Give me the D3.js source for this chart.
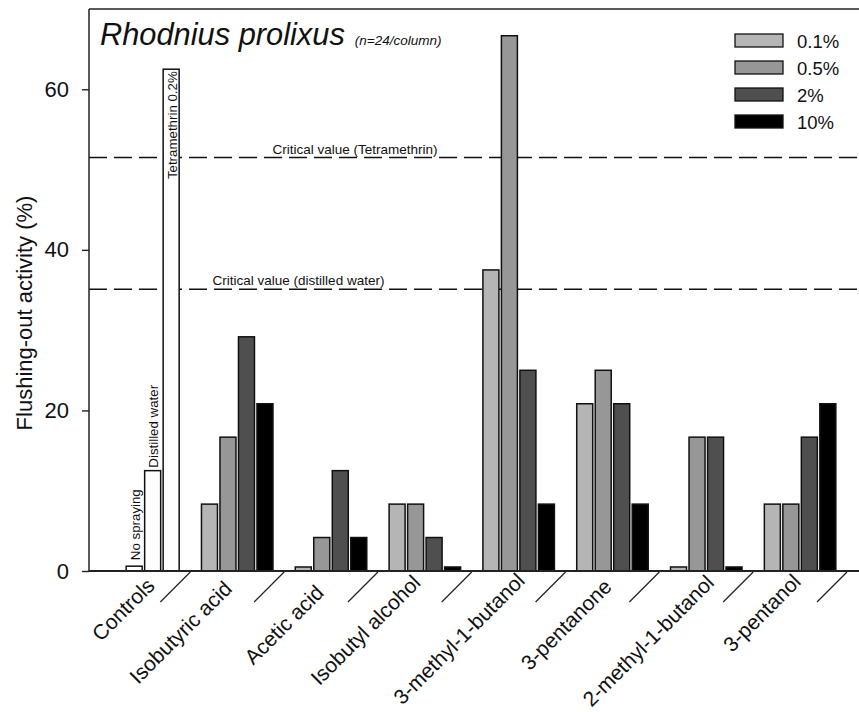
<!DOCTYPE html>
<html><head><meta charset="utf-8">
<script src="https://cdn.jsdelivr.net/npm/d3@7"></script>
<style>body{margin:0;background:#fff}svg{display:block}text{font-family:"Liberation Sans",Arial,sans-serif}</style>
</head><body><svg id="c" width="859" height="712"></svg>
<script>
const groups = ["Controls","Isobutyric acid","Acetic acid","Isobutyl alcohol","3-methyl-1-butanol","3-pentanone","2-methyl-1-butanol","3-pentanol"];
const doses = ["0.1%","0.5%","2%","10%"];
const doseColors = ["#b5b5b5","#979797","#4f4f4f","#000000"];
// values per group per dose (0.1%,0.5%,2%,10%)
const values = [
  [null,null,null,null],
  [8.33,16.67,29.17,20.83],
  [0.5,4.17,12.5,4.17],
  [8.33,8.33,4.17,0.5],
  [37.5,66.67,25,8.33],
  [20.83,25,20.83,8.33],
  [0.5,16.67,16.67,0.5],
  [8.33,8.33,16.67,20.83]
];
const controlLabels = ["No spraying","Distilled water","Tetramethrin 0.2%"];
const controlValues = [0.6,12.5,62.5];
const criticalValues = [51.5,35.1];
const criticalLabels = ["Critical value (Tetramethrin)","Critical value (distilled water)"];
const yTicks = [0,20,40,60];

// label placement tweaks (layout only)
const labelDx = [12.6,-4,-6,-3,7.4,0.6,9,2];
const labelY = [587,590,594,584,582,588,584,583];

const svg = d3.select("#c");
const L=89, T=9, R=859, B=571;
const y = d3.scaleLinear().domain([0,70]).range([B,T]);
const x = d3.scaleBand().domain(groups).range([96.5,847]);
const xi = d3.scaleBand().domain([0,1,2,3]).range([0,74]).paddingInner(0.135).paddingOuter(0.0675);
const off = (x.bandwidth()-74)/2;

// critical lines
svg.selectAll(".crit").data(criticalValues).join("line")
  .attr("x1",L).attr("x2",R).attr("y1",d=>y(d)).attr("y2",d=>y(d))
  .attr("stroke","#111").attr("stroke-width",1.4).attr("stroke-dasharray","18,7");
const critX=[355,298.5];
svg.selectAll(".critl").data(criticalLabels).join("text")
  .attr("x",(d,i)=>critX[i]).attr("y",(d,i)=>y(criticalValues[i])-4)
  .attr("text-anchor","middle").attr("font-size",13.5).attr("fill","#111").text(d=>d);

// bars
groups.forEach((g,gi)=>{
  if(gi===0){
    controlValues.forEach((v,k)=>{
      const bx = x(g)+off+xi(k+1);
      svg.append("rect").attr("x",bx).attr("y",y(v)).attr("width",xi.bandwidth()).attr("height",y(0)-y(v))
        .attr("fill","#fff").attr("stroke","#111").attr("stroke-width",1.5);
    });
  } else {
    values[gi].forEach((v,k)=>{
      const bx = x(g)+off+xi(k);
      svg.append("rect").attr("x",bx).attr("y",y(v)).attr("width",xi.bandwidth()).attr("height",y(0)-y(v))
        .attr("fill",doseColors[k]).attr("stroke","#111").attr("stroke-width",1.5);
    });
  }
});
// control labels (vertical)
const ctrlGap=[6,3,-2];
controlLabels.forEach((t,k)=>{
  const cx = x(groups[0])+off+xi(k+1)+xi.bandwidth()/2+5.5;
  let yy = y(controlValues[k])-ctrlGap[k];
  const anchor = k<2 ? "start" : "end";
  svg.append("text").attr("transform",`translate(${cx},${yy}) rotate(-90)`)
    .attr("text-anchor",anchor).attr("font-size",13.3).attr("fill","#111").text(t);
});

// frame / axes
svg.append("line").attr("x1",L).attr("x2",L).attr("y1",T).attr("y2",B).attr("stroke","#222").attr("stroke-width",1.5);
svg.append("line").attr("x1",L).attr("x2",R).attr("y1",T).attr("y2",T).attr("stroke","#222").attr("stroke-width",1.5);
svg.append("line").attr("x1",L).attr("x2",R).attr("y1",B).attr("y2",B).attr("stroke","#222").attr("stroke-width",1.8);

const yAxis = svg.append("g").attr("transform",`translate(${L},0)`)
  .call(d3.axisLeft(y).tickValues(yTicks).tickSize(7).tickPadding(13).tickFormat(d3.format("d")));
yAxis.select(".domain").remove();
yAxis.selectAll("line").attr("stroke","#222").attr("stroke-width",1.4);
yAxis.selectAll("text").attr("font-size",22).attr("fill","#111").attr("font-family","Liberation Sans, Arial, sans-serif");

// y label
svg.append("text").attr("transform",`translate(32,313) rotate(-90)`).attr("text-anchor","middle")
  .attr("font-size",22).attr("fill","#111").text("Flushing-out activity (%)");

// group slashes
groups.forEach((g,gi)=>{
  const xr = x(g)+x.bandwidth();
  svg.append("line").attr("x1",xr).attr("y1",B+1).attr("x2",xr-30).attr("y2",B+31).attr("stroke","#222").attr("stroke-width",1.2);
});
// x labels
svg.selectAll(".xl").data(groups).join("text")
  .attr("transform",(d,i)=>`translate(${x(d)+x.bandwidth()/2+labelDx[i]},${labelY[i]}) rotate(-45)`)
  .attr("text-anchor","end").attr("font-size",21).attr("fill","#111").text(d=>d);

// title
const title = svg.append("text").attr("x",100).attr("y",45).attr("font-style","italic").attr("fill","#111");
title.append("tspan").attr("font-size",30.8).text("Rhodnius prolixus");
title.append("tspan").attr("font-size",13.5).attr("dx",10).text("(n=24/column)");

// legend
const lg = svg.append("g").attr("transform","translate(735,34)");
doses.forEach((d,i)=>{
  lg.append("rect").attr("x",0).attr("y",i*27).attr("width",48).attr("height",13)
    .attr("fill",doseColors[i]).attr("stroke","#111").attr("stroke-width",1.3);
  lg.append("text").attr("x",62).attr("y",i*27+13.5).attr("font-size",18.5).attr("fill","#111").text(d);
});
</script></body></html>
